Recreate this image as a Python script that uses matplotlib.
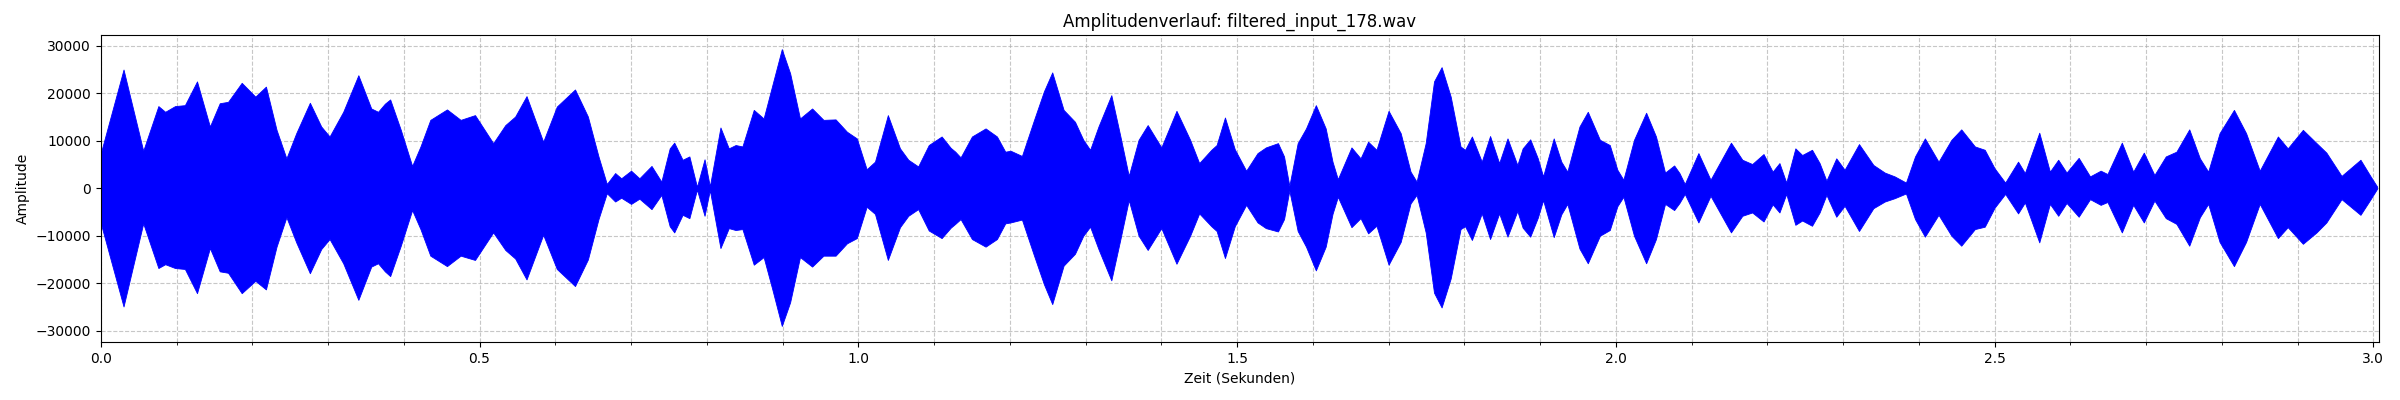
import matplotlib
matplotlib.use("Agg")
import matplotlib.pyplot as plt
from matplotlib.ticker import MultipleLocator

title = "Amplitudenverlauf: filtered_input_178.wav"
xlabel = "Zeit (Sekunden)"
ylabel = "Amplitude"
duration = 3.007

# Envelope of the waveform (time in s, upper / lower amplitude)
time_s = [
    0.000, 0.030, 0.056, 0.076, 0.085, 0.098, 0.111, 0.127, 0.144, 0.157,
    0.168, 0.186, 0.204, 0.218, 0.232, 0.245, 0.258, 0.276, 0.291, 0.302,
    0.320, 0.340, 0.357, 0.366, 0.375, 0.382, 0.396, 0.411, 0.422, 0.435,
    0.457, 0.475, 0.494, 0.518, 0.534, 0.547, 0.562, 0.584, 0.602, 0.626,
    0.643, 0.657, 0.668, 0.679, 0.687, 0.700, 0.711, 0.727, 0.740, 0.751,
    0.757, 0.768, 0.777, 0.787, 0.797, 0.804, 0.818, 0.829, 0.838, 0.847,
    0.862, 0.875, 0.886, 0.899, 0.910, 0.923, 0.939, 0.954, 0.970, 0.985,
    0.998, 1.011, 1.022, 1.039, 1.055, 1.066, 1.079, 1.093, 1.110, 1.122,
    1.128, 1.135, 1.150, 1.168, 1.183, 1.194, 1.201, 1.216, 1.232, 1.245,
    1.256, 1.271, 1.286, 1.297, 1.306, 1.317, 1.334, 1.346, 1.357, 1.370,
    1.382, 1.400, 1.420, 1.438, 1.450, 1.466, 1.473, 1.484, 1.497, 1.512,
    1.527, 1.538, 1.554, 1.562, 1.569, 1.580, 1.591, 1.604, 1.617, 1.626,
    1.633, 1.651, 1.663, 1.673, 1.684, 1.700, 1.716, 1.729, 1.737, 1.749,
    1.760, 1.770, 1.782, 1.795, 1.801, 1.810, 1.823, 1.834, 1.846, 1.857,
    1.870, 1.877, 1.887, 1.897, 1.904, 1.918, 1.928, 1.936, 1.952, 1.963,
    1.979, 1.992, 2.002, 2.010, 2.024, 2.040, 2.053, 2.065, 2.077, 2.084,
    2.091, 2.109, 2.125, 2.152, 2.167, 2.180, 2.195, 2.207, 2.216, 2.225,
    2.237, 2.246, 2.259, 2.269, 2.278, 2.291, 2.302, 2.321, 2.340, 2.355,
    2.368, 2.383, 2.395, 2.408, 2.426, 2.443, 2.456, 2.474, 2.487, 2.500,
    2.514, 2.531, 2.540, 2.559, 2.573, 2.584, 2.595, 2.611, 2.626, 2.640,
    2.649, 2.668, 2.683, 2.697, 2.711, 2.726, 2.740, 2.757, 2.771, 2.782,
    2.797, 2.816, 2.832, 2.850, 2.874, 2.887, 2.907, 2.925, 2.938, 2.958,
    2.983, 2.996, 3.005,
]

upper = [
    7400, 25000, 7900, 17300, 16100, 17300, 17500, 22500, 13000, 17900,
    18200, 22200, 19300, 21400, 12300, 6300, 11600, 18000, 13000, 10900,
    16100, 23800, 16800, 16100, 17800, 18700, 12300, 4700, 8800, 14400,
    16600, 14400, 15400, 9500, 13300, 15100, 19400, 9800, 17200, 20800,
    15100, 6700, 900, 3200, 2100, 3700, 2100, 4700, 1400, 8400,
    9600, 6000, 6700, 300, 6100, 400, 12800, 8400, 9100, 8800,
    16500, 14700, 21400, 29300, 24200, 14700, 16800, 14400, 14500, 11900,
    10500, 4000, 5600, 15400, 8400, 6000, 4600, 9100, 10900, 8500,
    7700, 6500, 10900, 12600, 10900, 7700, 7900, 6800, 14400, 20400,
    24400, 16500, 14000, 10200, 8100, 13000, 19600, 10900, 2600, 10200,
    13300, 8600, 16300, 10200, 5300, 8100, 9100, 14900, 8200, 3700,
    7400, 8600, 9500, 6700, 500, 9500, 12600, 17500, 12600, 5600,
    1900, 8600, 6300, 9800, 8100, 16300, 11600, 3500, 1400, 9500,
    22500, 25500, 19300, 8800, 8100, 10900, 5600, 11000, 5300, 10500,
    4900, 8400, 10300, 6300, 2500, 10500, 5600, 3500, 13000, 16100,
    10200, 9100, 3900, 1800, 10200, 15900, 10900, 3300, 4800, 3200,
    900, 7400, 1800, 9600, 6000, 5100, 7200, 3500, 5300, 1200,
    8400, 7000, 8100, 5300, 1600, 6300, 3900, 9300, 4900, 3300,
    2500, 1200, 6700, 10500, 5600, 10200, 12400, 8800, 8100, 4200,
    1200, 5600, 3200, 11700, 3500, 6000, 3300, 6400, 2500, 3700,
    3000, 9600, 3500, 7500, 2800, 6700, 7700, 12400, 6300, 3500,
    11600, 16500, 11600, 3700, 10900, 8400, 12300, 9500, 7500, 2600,
    6000, 2600, 350,
]

lower = [
    -7400, -24900, -7400, -16800, -16000, -16800, -17000, -22100, -12600, -17500,
    -17800, -22100, -19500, -21300, -12300, -6100, -11400, -17900, -12800, -10700,
    -15800, -23500, -16500, -15800, -17500, -18500, -12100, -4600, -8600, -14200,
    -16400, -14200, -15100, -9300, -13000, -14800, -19200, -9800, -17000, -20600,
    -15000, -6500, -1050, -2800, -2000, -3300, -2200, -4400, -1400, -8000,
    -9300, -5600, -6300, -300, -5800, -400, -12600, -8400, -8800, -8600,
    -16100, -14500, -21000, -29000, -24000, -14500, -16500, -14200, -14200, -11600,
    -10500, -3900, -5400, -15100, -8200, -5800, -4400, -8900, -10500, -8300,
    -7500, -6500, -10700, -12300, -10700, -7400, -7200, -6600, -14200, -20200,
    -24400, -16300, -13800, -10000, -8100, -12800, -19400, -10700, -2500, -10000,
    -13000, -8400, -15900, -10000, -5300, -8000, -9000, -14700, -8000, -3500,
    -7200, -8400, -9100, -6500, -500, -9000, -12300, -17300, -12300, -5400,
    -1800, -8200, -6300, -9500, -7900, -16100, -11300, -3200, -1400, -9300,
    -22000, -25100, -19000, -8600, -8000, -10900, -5300, -10700, -5300, -10200,
    -4800, -8300, -10200, -6200, -2500, -10300, -5500, -3300, -12700, -15800,
    -10000, -8800, -3800, -1800, -10000, -15800, -10700, -3300, -4600, -3100,
    -1200, -7200, -1600, -9300, -5800, -5100, -7000, -3400, -5100, -1200,
    -7700, -6800, -7900, -5100, -1400, -6000, -3700, -9000, -4200, -2800,
    -2100, -1100, -6500, -10200, -5600, -10000, -12100, -8600, -8100, -4100,
    -1200, -5300, -3000, -11400, -3300, -5800, -3100, -6000, -2300, -3500,
    -2900, -9300, -3500, -7200, -2600, -6300, -7500, -12100, -6100, -3300,
    -11300, -16400, -11300, -3300, -10500, -8200, -11700, -9300, -7200, -2300,
    -5600, -2400, -100,
]

fig, ax = plt.subplots(figsize=(24, 4), dpi=100)
ax.fill_between(time_s, lower, upper, color="blue", linewidth=0.6,
                edgecolor="blue", zorder=2)

ax.set_title(title, fontsize=12)
ax.set_xlabel(xlabel)
ax.set_ylabel(ylabel)
ax.set_xlim(0, duration)
ax.set_ylim(-32420, 32270)
ax.xaxis.set_major_locator(MultipleLocator(0.5))
ax.xaxis.set_minor_locator(MultipleLocator(0.1))
ax.yaxis.set_major_locator(MultipleLocator(10000))
ax.grid(True, which="both", linestyle="--", alpha=0.7)

fig.subplots_adjust(left=0.042, right=0.9911, top=0.9125, bottom=0.1445)
fig.savefig("out.png", dpi=100)
